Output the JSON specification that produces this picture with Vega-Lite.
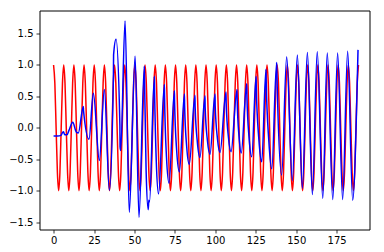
{
"$schema":"https://vega.github.io/schema/vega-lite/v6.json",
"width":330,"height":219,
"autosize":{"type":"none"},
"padding":{"left":39.5,"top":10.5,"right":14.5,"bottom":22.5},
"config":{"view":{"stroke":"black","strokeWidth":1},"font":"DejaVu Sans",
 "axis":{"grid":false,"domain":false,"tickColor":"black","tickSize":3.5,"tickWidth":0.8,"labelFontSize":10,"labelColor":"black","title":null,"labelFont":"DejaVu Sans"}},
"datasets":{
"red":[
{"t":0,"y":1},{"t":0.79,"y":0.707},{"t":1.57,"y":0},{"t":2.36,"y":-0.707},{"t":3.14,"y":-1},{"t":3.93,"y":-0.707},{"t":4.71,"y":0},{"t":5.5,"y":0.707},
{"t":6.28,"y":1},{"t":7.07,"y":0.707},{"t":7.85,"y":0},{"t":8.64,"y":-0.707},{"t":9.42,"y":-1},{"t":10.21,"y":-0.707},{"t":11.0,"y":0},{"t":11.78,"y":0.707},
{"t":12.57,"y":1},{"t":13.35,"y":0.707},{"t":14.14,"y":0},{"t":14.92,"y":-0.707},{"t":15.71,"y":-1},{"t":16.49,"y":-0.707},{"t":17.28,"y":0},{"t":18.06,"y":0.707},
{"t":18.85,"y":1},{"t":19.63,"y":0.707},{"t":20.42,"y":0},{"t":21.21,"y":-0.707},{"t":21.99,"y":-1},{"t":22.78,"y":-0.707},{"t":23.56,"y":0},{"t":24.35,"y":0.707},
{"t":25.13,"y":1},{"t":25.92,"y":0.707},{"t":26.7,"y":0},{"t":27.49,"y":-0.707},{"t":28.27,"y":-1},{"t":29.06,"y":-0.707},{"t":29.85,"y":0},{"t":30.63,"y":0.707},
{"t":31.42,"y":1},{"t":32.2,"y":0.707},{"t":32.99,"y":0},{"t":33.77,"y":-0.707},{"t":34.56,"y":-1},{"t":35.34,"y":-0.707},{"t":36.13,"y":0},{"t":36.91,"y":0.707},
{"t":37.7,"y":1},{"t":38.48,"y":0.707},{"t":39.27,"y":0},{"t":40.06,"y":-0.707},{"t":40.84,"y":-1},{"t":41.63,"y":-0.707},{"t":42.41,"y":0},{"t":43.2,"y":0.707},
{"t":43.98,"y":1},{"t":44.77,"y":0.707},{"t":45.55,"y":0},{"t":46.34,"y":-0.707},{"t":47.12,"y":-1},{"t":47.91,"y":-0.707},{"t":48.69,"y":0},{"t":49.48,"y":0.707},
{"t":50.27,"y":1},{"t":51.05,"y":0.707},{"t":51.84,"y":0},{"t":52.62,"y":-0.707},{"t":53.41,"y":-1},{"t":54.19,"y":-0.707},{"t":54.98,"y":0},{"t":55.76,"y":0.707},
{"t":56.55,"y":1},{"t":57.33,"y":0.707},{"t":58.12,"y":0},{"t":58.9,"y":-0.707},{"t":59.69,"y":-1},{"t":60.48,"y":-0.707},{"t":61.26,"y":0},{"t":62.05,"y":0.707},
{"t":62.83,"y":1},{"t":63.62,"y":0.707},{"t":64.4,"y":0},{"t":65.19,"y":-0.707},{"t":65.97,"y":-1},{"t":66.76,"y":-0.707},{"t":67.54,"y":0},{"t":68.33,"y":0.707},
{"t":69.12,"y":1},{"t":69.9,"y":0.707},{"t":70.69,"y":0},{"t":71.47,"y":-0.707},{"t":72.26,"y":-1},{"t":73.04,"y":-0.707},{"t":73.83,"y":0},{"t":74.61,"y":0.707},
{"t":75.4,"y":1},{"t":76.18,"y":0.707},{"t":76.97,"y":0},{"t":77.75,"y":-0.707},{"t":78.54,"y":-1},{"t":79.33,"y":-0.707},{"t":80.11,"y":0},{"t":80.9,"y":0.707},
{"t":81.68,"y":1},{"t":82.47,"y":0.707},{"t":83.25,"y":0},{"t":84.04,"y":-0.707},{"t":84.82,"y":-1},{"t":85.61,"y":-0.707},{"t":86.39,"y":0},{"t":87.18,"y":0.707},
{"t":87.96,"y":1},{"t":88.75,"y":0.707},{"t":89.54,"y":0},{"t":90.32,"y":-0.707},{"t":91.11,"y":-1},{"t":91.89,"y":-0.707},{"t":92.68,"y":0},{"t":93.46,"y":0.707},
{"t":94.25,"y":1},{"t":95.03,"y":0.707},{"t":95.82,"y":0},{"t":96.6,"y":-0.707},{"t":97.39,"y":-1},{"t":98.17,"y":-0.707},{"t":98.96,"y":0},{"t":99.75,"y":0.707},
{"t":100.53,"y":1},{"t":101.32,"y":0.707},{"t":102.1,"y":0},{"t":102.89,"y":-0.707},{"t":103.67,"y":-1},{"t":104.46,"y":-0.707},{"t":105.24,"y":0},{"t":106.03,"y":0.707},
{"t":106.81,"y":1},{"t":107.6,"y":0.707},{"t":108.38,"y":0},{"t":109.17,"y":-0.707},{"t":109.96,"y":-1},{"t":110.74,"y":-0.707},{"t":111.53,"y":0},{"t":112.31,"y":0.707},
{"t":113.1,"y":1},{"t":113.88,"y":0.707},{"t":114.67,"y":0},{"t":115.45,"y":-0.707},{"t":116.24,"y":-1},{"t":117.02,"y":-0.707},{"t":117.81,"y":0},{"t":118.6,"y":0.707},
{"t":119.38,"y":1},{"t":120.17,"y":0.707},{"t":120.95,"y":0},{"t":121.74,"y":-0.707},{"t":122.52,"y":-1},{"t":123.31,"y":-0.707},{"t":124.09,"y":0},{"t":124.88,"y":0.707},
{"t":125.66,"y":1},{"t":126.45,"y":0.707},{"t":127.23,"y":0},{"t":128.02,"y":-0.707},{"t":128.81,"y":-1},{"t":129.59,"y":-0.707},{"t":130.38,"y":0},{"t":131.16,"y":0.707},
{"t":131.95,"y":1},{"t":132.73,"y":0.707},{"t":133.52,"y":0},{"t":134.3,"y":-0.707},{"t":135.09,"y":-1},{"t":135.87,"y":-0.707},{"t":136.66,"y":0},{"t":137.44,"y":0.707},
{"t":138.23,"y":1},{"t":139.02,"y":0.707},{"t":139.8,"y":0},{"t":140.59,"y":-0.707},{"t":141.37,"y":-1},{"t":142.16,"y":-0.707},{"t":142.94,"y":0},{"t":143.73,"y":0.707},
{"t":144.51,"y":1},{"t":145.3,"y":0.707},{"t":146.08,"y":0},{"t":146.87,"y":-0.707},{"t":147.65,"y":-1},{"t":148.44,"y":-0.707},{"t":149.23,"y":0},{"t":150.01,"y":0.707},
{"t":150.8,"y":1},{"t":151.58,"y":0.707},{"t":152.37,"y":0},{"t":153.15,"y":-0.707},{"t":153.94,"y":-1},{"t":154.72,"y":-0.707},{"t":155.51,"y":0},{"t":156.29,"y":0.707},
{"t":157.08,"y":1},{"t":157.87,"y":0.707},{"t":158.65,"y":0},{"t":159.44,"y":-0.707},{"t":160.22,"y":-1},{"t":161.01,"y":-0.707},{"t":161.79,"y":0},{"t":162.58,"y":0.707},
{"t":163.36,"y":1},{"t":164.15,"y":0.707},{"t":164.93,"y":0},{"t":165.72,"y":-0.707},{"t":166.5,"y":-1},{"t":167.29,"y":-0.707},{"t":168.08,"y":0},{"t":168.86,"y":0.707},
{"t":169.65,"y":1},{"t":170.43,"y":0.707},{"t":171.22,"y":0},{"t":172.0,"y":-0.707},{"t":172.79,"y":-1},{"t":173.57,"y":-0.707},{"t":174.36,"y":0},{"t":175.14,"y":0.707},
{"t":175.93,"y":1},{"t":176.71,"y":0.707},{"t":177.5,"y":0},{"t":178.29,"y":-0.707},{"t":179.07,"y":-1},{"t":179.86,"y":-0.707},{"t":180.64,"y":0},{"t":181.43,"y":0.707},
{"t":182.21,"y":1},{"t":183.0,"y":0.707},{"t":183.78,"y":0},{"t":184.57,"y":-0.707},{"t":185.35,"y":-1},{"t":186.14,"y":-0.707},{"t":186.93,"y":0},{"t":187.71,"y":0.707},
{"t":188.5,"y":1}
],
"blue":[
{"t":0,"y":-0.13},{"t":2.5,"y":-0.13},{"t":4.6,"y":-0.12},{"t":5.4,"y":-0.08},{"t":6.1,"y":-0.06},{"t":6.9,"y":-0.11},{"t":8.3,"y":-0.11},{"t":9.5,"y":-0.04},
{"t":11.9,"y":0.09},{"t":13.6,"y":-0.04},{"t":14.2,"y":-0.07},{"t":15.3,"y":-0.08},{"t":18.4,"y":0.34},{"t":18.5,"y":0.28},{"t":21.9,"y":-0.18},{"t":24.6,"y":0.55},
{"t":28.3,"y":-0.52},{"t":31.4,"y":0.61},{"t":34.5,"y":-0.99},{"t":37.0,"y":0.85},{"t":37.1,"y":1.16},{"t":38.6,"y":1.41},{"t":41.0,"y":0.04},{"t":41.1,"y":-0.3},
{"t":41.5,"y":-0.36},{"t":44.2,"y":1.7},{"t":46.8,"y":-1.34},{"t":50.4,"y":1.14},{"t":52.8,"y":-1.42},
{"t":56.1,"y":0.98},{"t":56.2,"y":0.8},{"t":57.2,"y":-0.67},{"t":58.5,"y":-1.3},{"t":58.9,"y":-1.15},{"t":59.3,"y":-1.18},
{"t":62.3,"y":0.82},{"t":62.4,"y":0.65},{"t":63.5,"y":-0.54},{"t":64.9,"y":-1.05},
{"t":68.5,"y":0.69},{"t":68.6,"y":0.52},{"t":69.8,"y":-0.46},{"t":71.4,"y":-0.88},
{"t":74.7,"y":0.59},{"t":74.8,"y":0.42},{"t":76.1,"y":-0.36},{"t":77.8,"y":-0.7},
{"t":80.9,"y":0.54},{"t":81.0,"y":0.36},{"t":82.3,"y":-0.3},{"t":83.9,"y":-0.58},
{"t":87.4,"y":0.52},{"t":87.5,"y":0.34},{"t":88.9,"y":-0.23},{"t":90.5,"y":-0.47},
{"t":93.6,"y":0.51},{"t":93.7,"y":0.33},{"t":95.1,"y":-0.2},{"t":96.7,"y":-0.42},
{"t":99.8,"y":0.54},{"t":99.9,"y":0.36},{"t":101.3,"y":-0.17},{"t":102.9,"y":-0.39},
{"t":106.6,"y":0.57},{"t":106.7,"y":0.39},{"t":108.1,"y":-0.15},{"t":109.7,"y":-0.38},
{"t":113.4,"y":0.61},{"t":113.5,"y":0.43},{"t":114.7,"y":-0.15},{"t":116.0,"y":-0.4},
{"t":119.4,"y":0.7},{"t":119.5,"y":0.52},{"t":120.9,"y":-0.17},{"t":122.5,"y":-0.46},
{"t":125.2,"y":0.82},{"t":125.3,"y":0.65},{"t":126.9,"y":-0.18},{"t":128.7,"y":-0.54},
{"t":131.3,"y":0.93},{"t":131.4,"y":0.78},{"t":133.1,"y":-0.22},{"t":134.9,"y":-0.65},
{"t":137.9,"y":1.04},{"t":138.0,"y":0.92},{"t":141.0,"y":-0.75},
{"t":144.1,"y":1.13},{"t":147.6,"y":-0.84},{"t":150.7,"y":1.16},{"t":153.8,"y":-0.96},
{"t":156.9,"y":1.2},{"t":160.0,"y":-1.06},{"t":163.0,"y":1.21},{"t":166.4,"y":-1.12},
{"t":169.2,"y":1.19},{"t":172.6,"y":-1.14},{"t":175.6,"y":1.19},{"t":178.7,"y":-1.14},
{"t":181.8,"y":1.22},{"t":184.9,"y":-1.15},{"t":188.2,"y":1.24}
]},
"encoding":{
  "x":{"field":"t","type":"quantitative","scale":{"domain":[-8.7,195.3],"nice":false,"zero":false},"axis":{"values":[0,25,50,75,100,125,150,175],"labelPadding":2,"labelOverlap":false}},
  "y":{"field":"y","type":"quantitative","scale":{"domain":[-1.616,1.866],"nice":false,"zero":false},"axis":{"values":[-1.5,-1.0,-0.5,0.0,0.5,1.0,1.5],"format":".1f","labelExpr":"replace(datum.label,'-','−')","labelPadding":3,"labelOverlap":false,"labelBound":false}}
},
"layer":[
{"data":{"name":"red"},
 "mark":{"type":"line","color":"#ff0000","strokeWidth":1.5,"interpolate":"monotone"},
 "encoding":{}},
{"data":{"name":"blue"},
 "mark":{"type":"line","color":"#0000ff","strokeWidth":1.5,"interpolate":"monotone"},
 "encoding":{}}
]
}
